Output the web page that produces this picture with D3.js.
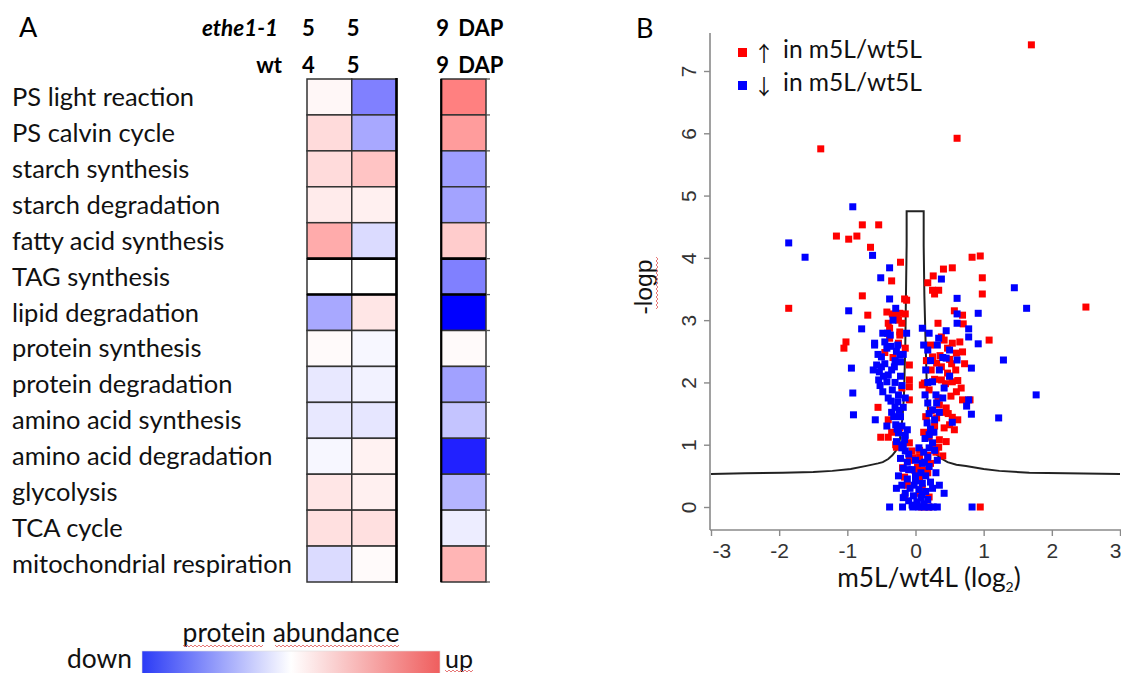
<!DOCTYPE html>
<html><head><meta charset="utf-8">
<script src="https://cdn.jsdelivr.net/npm/d3@7"></script>
<style>body{margin:0;background:#fff} svg{display:block}</style>
</head><body>
<svg id="c" width="1121" height="673"></svg>
<script>
// ---------------- DATA ----------------
const categories = ["PS light reaction","PS calvin cycle","starch synthesis","starch degradation",
  "fatty acid synthesis","TAG synthesis","lipid degradation","protein synthesis","protein degradation",
  "amino acid synthesis","amino acid degradation","glycolysis","TCA cycle","mitochondrial respiration"];
// relative protein abundance (-1 = strongly down, +1 = strongly up)
const colE5W4 = [0.03,0.14,0.14,0.08,0.33,0,-0.34,0.02,-0.09,-0.09,-0.03,0.10,0.12,-0.14];
const colE5W5 = [-0.50,-0.34,0.23,0.06,-0.14,0,0.10,-0.03,-0.05,-0.10,0.05,0.06,0.12,0.02];
const colE9W9 = [0.50,0.39,-0.38,-0.36,0.20,-0.50,-1.00,0.02,-0.37,-0.23,-0.87,-0.29,-0.07,0.29];
const etheLabels = ["5","5","9"];
const wtLabels = ["4","5","9"];

// volcano plot: [log2 ratio, -log p]
const upPoints = [[1.70,7.42],[0.61,5.92],[-1.39,5.75],[2.50,3.21],[-1.86,3.19],
 [-0.78,4.53],[-0.54,4.53],[-1.16,4.35],[-0.98,4.30],[-0.86,4.35],[-0.66,4.17],
 [-0.22,3.93],[-0.35,3.63],[-0.78,3.39],[-0.16,3.34],[-0.13,3.32],
 [-0.70,3.08],[-0.42,3.13],[-0.34,3.10],[-0.27,3.10],[-0.23,3.11],[-0.15,3.10],
 [-0.40,2.95],[-0.25,3.00],[-0.20,2.95],[-0.23,2.81],[-0.38,2.87],[-0.38,2.71],[-0.23,2.76],[-0.25,2.63],
 [-1.02,2.65],[-1.05,2.55],
 [-0.09,2.28],[-0.09,2.04],[-0.20,1.91],[-0.09,1.93],[-0.09,1.72],
 [-0.51,1.12],[-0.40,1.12],[-0.29,1.00],[-0.23,1.27],[-0.35,1.20],[-0.28,0.96],[-0.09,1.03],
 [0.83,4.01],[0.95,4.03],[0.98,3.68],[0.98,3.42],[0.54,3.84],[0.41,3.82],[0.26,3.71],[0.18,3.60],
 [0.25,3.48],[0.28,3.42],[0.34,3.48],[0.57,3.15],[0.69,3.08],[0.70,2.94],[1.08,2.68],
 [0.38,2.73],[0.42,2.68],[0.54,2.63],[0.60,2.47],[0.69,2.49],[0.25,2.41],[0.31,2.31],[0.38,2.25],
 [0.47,2.15],[0.50,2.10],[0.54,2.01],[0.60,1.85],[0.67,1.91],[0.38,2.04],[0.20,1.88],[0.13,1.99],
 [0.10,1.96],[0.45,1.59],[0.54,1.44],[0.35,1.64],[0.42,1.27],[0.57,1.24],[0.31,1.43],[0.35,1.08],
 [0.34,0.96],[0.40,0.82],[0.20,1.12],[0.18,0.83],[0.06,0.91],[0.25,1.00],[0.95,0.00],
 [-0.09,0.75],[-0.01,0.59],[-0.16,0.48],[0.06,0.47],[0.13,0.59],[0.06,0.22],[-0.04,0.79],[0.06,0.80],
 [-0.19,0.63],[0.18,0.55],[0.03,0.64],[-0.16,0.16],[0.20,0.16],[0.09,0.00],[0.20,0.00],
 [0.22,2.60],[0.36,2.43],[0.50,2.37],[0.53,2.30],[0.59,2.20],[0.62,2.03],[0.69,1.72],[0.80,1.72],
 [0.28,1.30],[0.48,1.50],[0.15,1.45],[0.33,1.75],
 [0.23,2.20],[0.28,2.05],[0.44,1.98],[0.52,1.78],[0.40,1.52],[0.23,1.55],[0.50,1.32],[0.62,1.40],
 [0.30,0.88],[0.45,1.05],[0.16,2.35],[0.72,2.30],[0.47,2.55],[0.33,2.95],[0.65,2.65],[0.12,1.20],
 [0.22,0.70],[0.10,0.30],[-0.12,0.35],[-0.05,0.90],
 [-0.45,2.48],[-0.33,2.40],[-0.15,2.55],[-0.55,1.60],[-0.40,1.40]];
const downPoints = [[-0.92,4.82],[-1.86,4.24],[-1.62,4.01],[-0.63,4.04],[-0.38,3.84],[-0.51,3.68],[-0.38,3.34],[-0.29,3.19],
 [-0.98,3.15],[-0.79,2.86],[-0.48,2.79],[-0.41,2.79],[-0.37,2.76],[-0.13,2.79],[-0.60,2.63],[-0.26,2.60],
 [-0.23,2.44],[-0.50,2.41],[-0.94,2.23],[-0.57,2.28],[-0.53,2.17],[-0.31,2.25],[-0.22,2.33],[-0.54,2.04],
 [-0.42,2.01],[-0.34,1.88],[-0.26,1.69],[-0.92,1.83],[-0.35,1.52],[-0.91,1.48],[-0.59,1.40],[-0.29,1.32],
 [-0.25,1.19],[-0.16,1.08],[-0.12,1.24],
 [0.38,3.66],[0.61,3.35],[0.61,3.10],[0.61,2.95],[0.78,2.86],[0.78,2.73],[0.92,2.62],[0.92,3.11],
 [1.45,3.52],[1.63,3.19],[1.29,2.36],[0.82,2.23],[1.77,1.80],[0.78,1.72],[0.75,1.62],[0.82,1.49],[1.22,1.43],
 [0.10,2.87],[0.20,2.79],[0.45,2.83],[0.32,2.60],[0.34,2.71],[0.18,2.52],[0.50,2.52],[0.61,2.36],[0.45,2.39],
 [0.42,1.91],[0.25,2.01],[0.31,1.67],[0.18,1.67],[0.25,1.56],[0.54,1.36],[0.20,1.16],[0.25,1.03],[0.28,0.91],[0.13,0.72],
 [0.42,0.22],[-0.38,0],[-0.19,0],[-0.04,0],[0.13,0],[0.19,0],[0.26,0],[0.32,0],[0.83,0],
 [-0.20,0.95],[-0.15,0.90],[-0.10,0.85],[0.05,0.95],[0.12,0.88],[0.18,0.80],[-0.22,0.78],[-0.12,0.72],
 [0.00,0.75],[0.10,0.70],[0.20,0.65],[-0.18,0.62],[-0.05,0.60],[0.08,0.55],[0.15,0.50],[-0.25,0.50],
 [-0.12,0.45],[0.00,0.42],[0.10,0.38],[0.22,0.40],[-0.20,0.35],[-0.08,0.30],[0.05,0.28],[0.15,0.25],
 [-0.15,0.22],[-0.03,0.18],[0.08,0.15],[0.18,0.12],[-0.10,0.10],[0.02,0.08],[0.12,0.05],[-0.05,0.03],
 [0.05,0.00],[-0.18,0.15],[0.25,0.30],[-0.28,0.30],[0.00,0.50],[-0.10,0.60],[0.10,0.20],[-0.02,0.35],
 [-0.22,2.10],[-0.20,1.95],[-0.25,1.80],[-0.18,1.60],[-0.22,1.45],[-0.20,1.30],[-0.15,1.15],[-0.18,1.00],
 [-0.28,2.50],[-0.30,2.35],[-0.35,2.20],[-0.45,2.30],[-0.42,2.55],[-0.47,2.10],[-0.40,1.75],[-0.30,1.60],
 [-0.32,1.45],[-0.27,1.25],[-0.52,1.95],[-0.55,2.45],
 [0.15,2.20],[0.18,2.00],[0.14,1.80],[0.20,1.50],[0.17,1.35],[0.22,1.25],[0.14,1.10],[0.28,1.40],
 [0.30,1.80],[0.35,2.20],[0.40,2.40],[0.12,2.60],[0.27,1.20],
 [-0.45,2.65],[-0.36,2.58],[-0.50,2.25],[-0.62,2.20],[-0.40,2.12],[-0.30,2.00],[-0.48,1.85],[-0.36,1.70],
 [-0.24,1.55],[-0.42,1.30],[-0.60,2.60],[-0.33,3.00],[-0.18,2.45],[-0.15,1.75],[-0.28,1.05],
 [0.22,2.35],[0.35,1.52],[0.40,1.75],[0.50,2.10],[0.20,0.95],[0.32,0.75],[0.30,0.55],[0.35,0.35]];
// significance threshold curve
const curveX = [-3.0,-2.5,-1.95,-1.5,-1.22,-0.95,-0.72,-0.55,-0.48,-0.40,-0.34,-0.29,-0.26,-0.23,-0.21,-0.19,-0.17,-0.15,-0.14,-0.13,-0.13,
  0.12,0.12,0.13,0.15,0.17,0.19,0.21,0.23,0.25,0.28,0.32,0.39,0.47,0.60,0.74,1.0,1.23,1.67,2.2,3.0];
const curveY = [0.53,0.54,0.55,0.56,0.58,0.61,0.66,0.70,0.72,0.77,0.83,0.90,0.96,1.08,1.24,1.45,1.77,2.57,3.4,4.2,4.75,
  4.75,4.2,3.4,2.57,1.77,1.45,1.24,1.08,0.96,0.90,0.83,0.77,0.72,0.68,0.66,0.61,0.58,0.55,0.54,0.53];
const xTicks = [-3,-2,-1,0,1,2,3];
const yTicks = [0,1,2,3,4,5,6,7];

// ---------------- DRAW ----------------
const svg = d3.select("#c");
const SANS = "Lato, 'Open Sans', sans-serif";
const ARIAL = "'Liberation Sans', Arial, sans-serif";
function fit(sel, target){ const w = sel.node().getComputedTextLength(); const fs = parseFloat(sel.attr("font-size")); const n = fs*target/w; sel.attr("font-size", n); return n; }
function wavy(g, x0, y0, len, vertical){
  let d = ""; const step = 2;
  for(let i=0;i<=len;i+=step){
    const o = (i/step)%2===0 ? 0 : 2;
    if(vertical) d += (i===0?"M":"L") + (x0+o) + "," + (y0+i);
    else d += (i===0?"M":"L") + (x0+i) + "," + (y0+o);
  }
  g.append("path").attr("d", d).attr("fill","none").attr("stroke","#e46a6a").attr("stroke-width",0.9);
}

// panel letters
svg.append("text").attr("x",19).attr("y",37).attr("font-family",SANS).attr("font-size",27).text("A");
svg.append("text").attr("x",636).attr("y",38).attr("font-family",SANS).attr("font-size",27).text("B");

// ---- heatmap ----
const colKeys = ["e5w4","e5w5","gap","e9w9"];
const heatCols = [{key:"e5w4",vals:colE5W4},{key:"e5w5",vals:colE5W5},{key:"e9w9",vals:colE9W9}];
const xb = d3.scaleBand().domain(colKeys).range([307,486]);
const yb = d3.scaleBand().domain(categories).range([79,582]);
const color = d3.scaleLinear().domain([-1,0,1]).range(["#0000ff","#ffffff","#ff0000"]);
const hm = svg.append("g");
heatCols.forEach(c => {
  hm.selectAll(null).data(categories).enter().append("rect")
    .attr("x", xb(c.key)).attr("y", d => yb(d))
    .attr("width", xb.bandwidth()).attr("height", yb.bandwidth())
    .attr("fill", (d,i) => color(c.vals[i]))
    .attr("stroke","#333").attr("stroke-width",1.5);
});
// heavier rules
const tagTop = yb("TAG synthesis"), tagBot = yb("TAG synthesis")+yb.bandwidth();
[[xb("e5w4"), xb("e5w5")+xb.bandwidth()],[xb("e9w9"), xb("e9w9")+xb.bandwidth()]].forEach(([a,b])=>{
  [tagTop, tagBot].forEach(y => hm.append("line").attr("x1",a).attr("x2",b).attr("y1",y).attr("y2",y).attr("stroke","#000").attr("stroke-width",2.6));
});
hm.append("line").attr("x1",xb("e5w5")+xb.bandwidth()).attr("x2",xb("e5w5")+xb.bandwidth())
  .attr("y1",yb.range()[0]-1).attr("y2",yb.range()[1]+1).attr("stroke","#000").attr("stroke-width",2.6);
hm.append("line").attr("x1",xb("e9w9")).attr("x2",xb("e9w9"))
  .attr("y1",yb.range()[0]).attr("y2",yb.range()[1]).attr("stroke","#000").attr("stroke-width",2.2);
hm.selectAll(null).data(categories.concat(["_end"])).enter().append("line")
  .attr("x1", xb("e9w9")+xb.bandwidth()).attr("x2", xb("e9w9")+xb.bandwidth()+4)
  .attr("y1", d => d==="_end" ? yb.range()[1] : yb(d)).attr("y2", d => d==="_end" ? yb.range()[1] : yb(d))
  .attr("stroke","#555").attr("stroke-width",1.3);

// row labels
const labs = hm.selectAll(null).data(categories).enter().append("text")
  .attr("x",12).attr("y", d => yb(d)+yb.bandwidth()/2 + 9)
  .attr("font-family",SANS).attr("font-size",20).attr("fill","#111").text(d=>d);
const longest = labs.filter(d => d==="mitochondrial respiration");
const lfs = fit(longest, 280);
labs.attr("font-size", lfs);

// header
const hdrCols = ["e5w4","e5w5","e9w9"];
const hdr = svg.append("g").attr("font-family",SANS).attr("font-weight","bold").attr("font-size",22).attr("fill","#000");
const eth = hdr.append("text").attr("x",278).attr("y",36).attr("text-anchor","end").attr("font-style","italic").attr("font-size",22).text("ethe1-1");
fit(eth, 76);
const wtT = hdr.append("text").attr("x",282).attr("y",73).attr("text-anchor","end").text("wt");
fit(wtT, 25);
hdr.selectAll(null).data(etheLabels).enter().append("text")
  .attr("x",(d,i)=>xb(hdrCols[i])+xb.bandwidth()/2-21).attr("y",36).attr("text-anchor","middle").text(d=>d);
hdr.selectAll(null).data(wtLabels).enter().append("text")
  .attr("x",(d,i)=>xb(hdrCols[i])+xb.bandwidth()/2-21).attr("y",73).attr("text-anchor","middle").text(d=>d);
[36,73].forEach(y=>{ const t = hdr.append("text").attr("x",xb("e9w9")+17).attr("y",y).text("DAP"); fit(t,42); });

// color legend
const defs = svg.append("defs");
const grad = defs.append("linearGradient").attr("id","lg");
[[0,"#2b3bf6"],[0.5,"#ffffff"],[1,"#ef5e5e"]].forEach(([o,c])=>grad.append("stop").attr("offset",o).attr("stop-color",c));
const leg = svg.append("g");
leg.append("rect").attr("x",142).attr("y",651).attr("width",298).attr("height",30).attr("fill","url(#lg)").attr("stroke","#ddd").attr("stroke-width",0.6);
const pa = leg.append("text").attr("x",291).attr("y",642).attr("text-anchor","middle").attr("font-family",SANS).attr("font-size",20).attr("fill","#111").text("protein abundance");
fit(pa,217);
const dn = leg.append("text").attr("x",67).attr("y",668).attr("font-family",SANS).attr("font-size",20).attr("fill","#111").text("down");
fit(dn,65);
const up = leg.append("text").attr("x",445).attr("y",668).attr("font-family",SANS).attr("font-size",20).attr("fill","#111").text("up");
fit(up,28);
wavy(leg,183,645,80,false); wavy(leg,275,645,125,false); wavy(leg,445,670,28,false);

// ---- volcano ----
const xs = d3.scaleLinear().domain([-3,3]).range([711,1120]);
const ys = d3.scaleLinear().domain([0,7]).range([507,71]);
const vg = svg.append("g");
const axisCol = "#8a8a8a";
vg.append("line").attr("x1",710).attr("x2",710).attr("y1",33).attr("y2",530).attr("stroke",axisCol).attr("stroke-width",1.6);
vg.append("line").attr("x1",710).attr("x2",1121).attr("y1",530).attr("y2",530).attr("stroke",axisCol).attr("stroke-width",1.6);
const yAx = vg.append("g").attr("transform","translate(710,0)")
  .call(d3.axisLeft(ys).tickValues(yTicks).tickSizeInner(6).tickSizeOuter(0).tickFormat(d3.format("d")));
yAx.select(".domain").remove();
yAx.selectAll(".tick line").attr("stroke",axisCol).attr("stroke-width",1.4);
yAx.selectAll(".tick text").attr("transform","rotate(-90)").attr("x",0).attr("y",-14).attr("dy",0)
  .attr("text-anchor","middle").attr("font-family",ARIAL).attr("font-size",21).attr("fill","#333");
const xAx = vg.append("g").attr("transform","translate(0,530)")
  .call(d3.axisBottom(xs).tickValues(xTicks).tickSizeInner(6).tickSizeOuter(0).tickFormat(d3.format("d")));
xAx.select(".domain").remove();
xAx.selectAll(".tick line").attr("stroke",axisCol).attr("stroke-width",1.4);
const xDom = xs.domain();
xAx.selectAll(".tick text").attr("y",28).attr("dy",0).attr("font-family",ARIAL).attr("font-size",21).attr("fill","#333")
  .text(d => d<0 ? "-"+Math.abs(d) : d)
  .attr("text-anchor", d => d===xDom[0] ? "start" : d===xDom[1] ? "end" : "middle")
  .attr("x", d => d===xDom[0] ? 1 : d===xDom[1] ? 1 : 0);

// threshold curve
const curvePts = curveX.map((x,i)=>[x,curveY[i]]);
vg.append("path").attr("d", d3.line().x(d=>xs(d[0])).y(d=>ys(d[1]))(curvePts))
  .attr("fill","none").attr("stroke","#222").attr("stroke-width",2);

// points
const S = 7;
vg.selectAll(null).data(upPoints).enter().append("rect")
  .attr("x",d=>xs(d[0])-S/2).attr("y",d=>ys(d[1])-S/2).attr("width",S).attr("height",S).attr("fill","#ff0000");
vg.selectAll(null).data(downPoints).enter().append("rect")
  .attr("x",d=>xs(d[0])-S/2).attr("y",d=>ys(d[1])-S/2).attr("width",S).attr("height",S).attr("fill","#0000ff");

// legend
const vl = svg.append("g").attr("font-family",SANS).attr("fill","#111");
vl.append("rect").attr("x",738).attr("y",48).attr("width",9).attr("height",9).attr("fill","#ff0000");
vl.append("rect").attr("x",738).attr("y",81).attr("width",9).attr("height",9).attr("fill","#0000ff");
vl.append("text").attr("x",764).attr("y",61).attr("text-anchor","middle").attr("font-family","'Noto Sans CJK JP', 'DejaVu Sans', sans-serif").attr("font-size",21).text("\u2191");
vl.append("text").attr("x",764).attr("y",94).attr("text-anchor","middle").attr("font-family","'Noto Sans CJK JP', 'DejaVu Sans', sans-serif").attr("font-size",21).text("\u2193");
const l1 = vl.append("text").attr("x",783).attr("y",58).attr("font-size",20).text("in m5L/wt5L"); fit(l1,139);
const l2 = vl.append("text").attr("x",783).attr("y",91).attr("font-size",20).text("in m5L/wt5L"); fit(l2,139);

// axis titles
const xt = svg.append("text").attr("x",929).attr("y",587).attr("text-anchor","middle").attr("font-family",SANS).attr("font-size",22).attr("fill","#111");
xt.append("tspan").text("m5L/wt4L (log");
xt.append("tspan").attr("font-size",14).attr("dy",5).text("2");
xt.append("tspan").attr("dy",-5).text(")");
const xtw = xt.node().getComputedTextLength();
xt.attr("font-size", 22*185/xtw);
const yt = svg.append("text").attr("transform","translate(652,287) rotate(-90)").attr("text-anchor","middle")
  .attr("font-family",ARIAL).attr("font-size",23).attr("fill","#111").text("-logp");
fit(yt,55);
wavy(svg,656,257,52,true);
</script>
</body></html>
